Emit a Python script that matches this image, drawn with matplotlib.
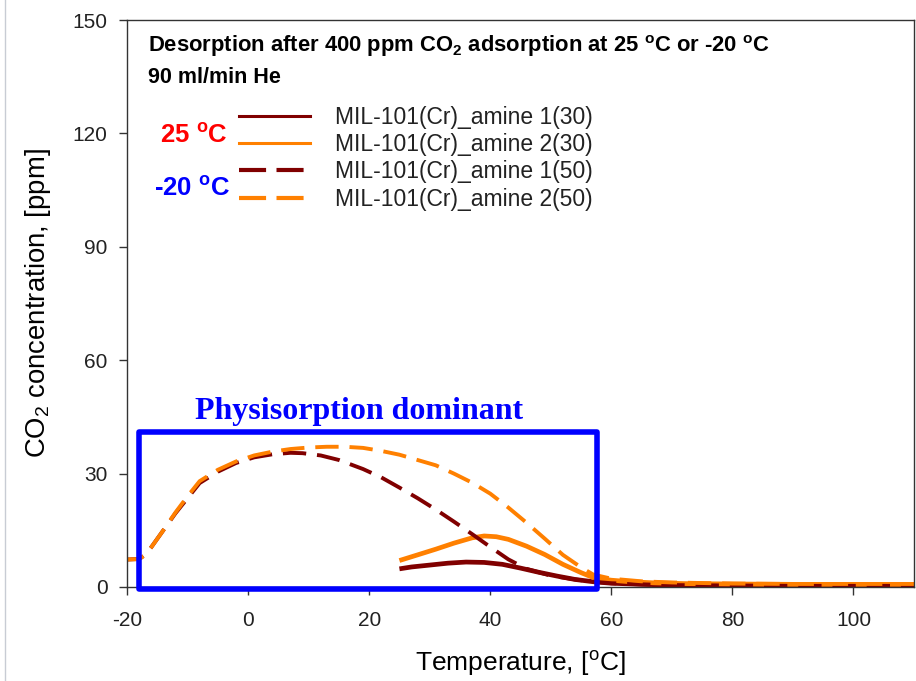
import numpy as np
import matplotlib
matplotlib.use('Agg')
import matplotlib.pyplot as plt
from matplotlib.patches import Rectangle
from matplotlib.lines import Line2D

plt.rcParams['font.family'] = ['Liberation Sans', 'DejaVu Sans']
plt.rcParams['mathtext.fontset'] = 'custom'
plt.rcParams['mathtext.rm'] = 'Liberation Sans'
plt.rcParams['mathtext.bf'] = 'Liberation Sans:bold'
plt.rcParams['mathtext.it'] = 'Liberation Sans:italic'
plt.rcParams['axes.unicode_minus'] = False

# desorption profiles, temperature [C] vs CO2 [ppm]
t_a1_30 = [25, 27, 30, 33, 36, 39, 42, 45, 48, 51, 54, 57, 60, 65, 70, 80, 90, 100, 110]
c_a1_30 = [4.8, 5.3, 5.8, 6.3, 6.6, 6.5, 6.0, 5.0, 3.9, 2.9, 2.0, 1.4, 1.0, 0.7, 0.5, 0.4, 0.4, 0.3, 0.3]

t_a2_30 = [25, 28, 31, 34, 37, 39, 41, 43, 46, 49, 52, 55, 57, 60, 63, 67, 72, 80, 90, 100, 110]
c_a2_30 = [7.0, 8.5, 10.0, 11.6, 13.0, 13.5, 13.3, 12.6, 10.8, 8.6, 6.0, 3.8, 2.5, 1.8, 1.4, 1.1, 0.9, 0.8, 0.7, 0.7, 0.7]

t_a1_50 = [-21, -18, -17, -16, -14, -12, -10, -8, -5, -2, 1, 4, 7, 9, 12, 15, 19, 22, 25, 28,
           31, 34, 37, 40, 43, 46, 50, 54, 57, 60, 65, 70, 80, 90, 100, 110]
c_a1_50 = [7.2, 7.4, 8.5, 10.5, 15, 19.5, 23.5, 27.5, 30.5, 32.8, 34.3, 35.1, 35.5, 35.4, 34.8, 33.6, 31.2, 29, 26.3, 23.5,
           20.5, 17.3, 14, 10.6, 7.3, 4.8, 3.0, 2.0, 1.4, 1.0, 0.7, 0.5, 0.4, 0.3, 0.3, 0.3]

t_a2_50 = [-21, -18, -17, -16, -14, -12, -10, -8, -5, -2, 1, 4, 7, 10, 13, 16, 19, 22, 25, 28,
           31, 34, 37, 40, 43, 46, 49, 52, 55, 57, 60, 65, 70, 80, 90, 100, 110]
c_a2_50 = [7.2, 7.4, 8.5, 10.5, 15, 19.7, 24, 28, 31, 33.2, 34.8, 35.8, 36.5, 36.9, 37.1, 37.1, 36.8, 36.0, 35.0, 33.6,
           32.2, 30.0, 27.6, 24.7, 21.0, 17.0, 12.8, 8.5, 5.2, 3.3, 2.2, 1.5, 1.2, 0.9, 0.8, 0.8, 0.8]

labels = ['MIL-101(Cr)_amine 1(30)', 'MIL-101(Cr)_amine 2(30)',
          'MIL-101(Cr)_amine 1(50)', 'MIL-101(Cr)_amine 2(50)']
xticks = [-20, 0, 20, 40, 60, 80, 100]
yticks = [0, 30, 60, 90, 120, 150]

# physisorption region box (data units)
box_x = [-18.0, 57.7]
box_y = [-0.5, 41.0]

dred = '#800000'
orng = '#ff8000'

fig = plt.figure(figsize=(9.16, 6.81), dpi=100)
ax = fig.add_axes([127 / 916, 1 - 587 / 681, 787 / 916, 567 / 681])

ax.plot(t_a1_30, c_a1_30, color=dred, lw=3.4, solid_capstyle='butt')
ax.plot(t_a2_30, c_a2_30, color=orng, lw=3.4, solid_capstyle='butt')
ax.plot(t_a1_50, c_a1_50, color=dred, lw=2.8, dashes=(6, 2.8))
ax.plot(t_a2_50, c_a2_50, color=orng, lw=2.8, dashes=(6, 2.8))

rect = Rectangle((box_x[0], box_y[0]), box_x[1] - box_x[0], box_y[1] - box_y[0],
                 fill=False, edgecolor='#0000ff', lw=4, joinstyle='round',
                 clip_on=False, zorder=5)
ax.add_patch(rect)
ax.text((box_x[0] + box_x[1]) / 2 - 1.5, box_y[1] + 3.5, 'Physisorption dominant',
        family='Liberation Serif', fontweight='bold', fontsize=23, color='#0000ff',
        ha='center', va='baseline')

ax.set_xlim(-20, 110)
ax.set_ylim(0, 150)
ax.set_xticks(xticks)
ax.set_yticks(yticks)
ax.tick_params(axis='both', direction='out', length=6, width=1, color='#333333',
               labelsize=15, labelcolor='#222222')
ax.tick_params(axis='x', pad=11)
ax.tick_params(axis='y', pad=8)
for s in ax.spines.values():
    s.set_color('#333333')
    s.set_linewidth(1)

ax.set_xlabel('Temperature, [$^\\mathregular{o}$C]', fontsize=19, labelpad=14)
ax.set_ylabel('CO$_\\mathregular{2}$ concentration, [ppm]', fontsize=19.8, labelpad=14)

ax.text(0.027, 0.9436, 'Desorption after 400 ppm CO$_\\mathbf{2}$ adsorption at 25 $^\\mathbf{o}$C or -20 $^\\mathbf{o}$C',
        transform=ax.transAxes, fontsize=15.8, fontweight='bold', va='baseline')
ax.text(0.027, 0.889, '90 ml/min He', transform=ax.transAxes,
        fontsize=15.5, fontweight='bold', va='baseline')

ax.text(0.042, 0.795, '25 $^\\mathbf{o}$C', transform=ax.transAxes, fontsize=18.5,
        fontweight='bold', color='#ff0000', va='center')
ax.text(0.034, 0.702, '-20 $^\\mathbf{o}$C', transform=ax.transAxes, fontsize=18.5,
        fontweight='bold', color='#0000ff', va='center')

h1 = Line2D([], [], color=dred, lw=2.2)
h2 = Line2D([], [], color=orng, lw=2.2)
h3 = Line2D([], [], color=dred, lw=3, dashes=(6.5, 2.5))
h4 = Line2D([], [], color=orng, lw=3, dashes=(6.5, 2.5))
ax.legend([h1, h2, h3, h4], labels, loc='upper left', bbox_to_anchor=(0.1423, 0.849),
          frameon=False, fontsize=16.5, handlelength=3.1, handletextpad=1.1,
          labelspacing=0.19, borderpad=0, borderaxespad=0, labelcolor='#222222')

fig.add_artist(Line2D([5 / 916, 5 / 916], [0, 1], color='#c8ccd4', lw=1))

fig.savefig('out.png', dpi=100)
